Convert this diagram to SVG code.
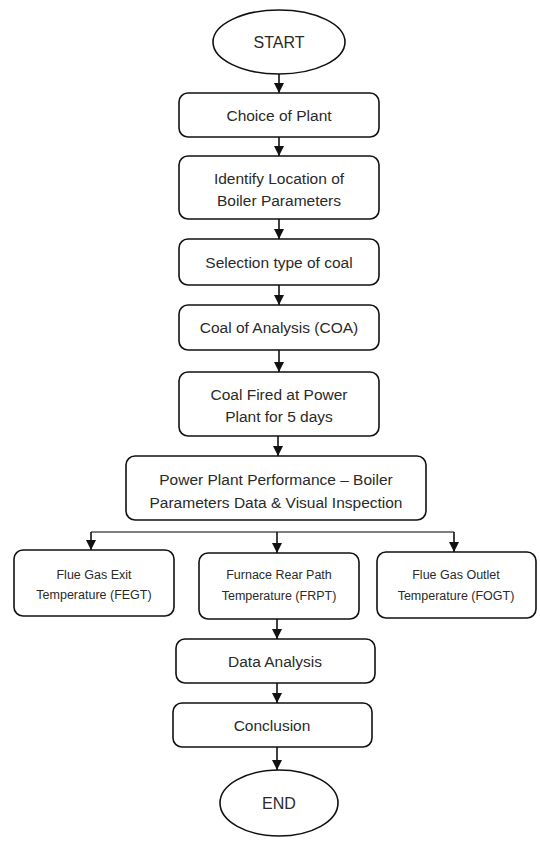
<svg xmlns="http://www.w3.org/2000/svg" width="540" height="841" viewBox="0 0 540 841">
<style>
.box{fill:#fff;stroke:#111;stroke-width:1.6}
.t{font-family:"Liberation Sans",Arial,sans-serif;font-size:15.5px;fill:#2a2a2a;text-anchor:middle}
.s{font-family:"Liberation Sans",Arial,sans-serif;font-size:12.5px;fill:#2a2a2a;text-anchor:middle}
.big{font-family:"Liberation Sans",Arial,sans-serif;font-size:16px;fill:#2a2a2a;text-anchor:middle}
.c{stroke:#111;stroke-width:1.6;fill:none;marker-end:url(#ah)}
</style>
<defs>
<marker id="ah" viewBox="0 0 10 10" refX="10" refY="5" markerWidth="10" markerHeight="10" markerUnits="userSpaceOnUse" orient="auto">
<path d="M0,0 L10,5 L0,10 Z" fill="#111"/>
</marker>
</defs>
<rect width="540" height="841" fill="#fff"/>
<g id="connectors">
<line class="c" x1="279" y1="74" x2="279" y2="93"/>
<line class="c" x1="279" y1="137" x2="279" y2="156"/>
<line class="c" x1="279" y1="219" x2="279" y2="239"/>
<line class="c" x1="279" y1="285" x2="279" y2="305"/>
<line class="c" x1="279" y1="350" x2="279" y2="372"/>
<line class="c" x1="278" y1="436" x2="278" y2="456"/>
<line x1="91" y1="532" x2="454" y2="532" stroke="#555" stroke-width="1.6"/>
<line class="c" x1="91" y1="532" x2="91" y2="550"/>
<line class="c" x1="277" y1="532" x2="277" y2="553"/>
<line class="c" x1="454" y1="532" x2="454" y2="552"/>
<line class="c" x1="277" y1="619" x2="277" y2="639"/>
<line class="c" x1="277" y1="683" x2="277" y2="703"/>
<line class="c" x1="277" y1="747" x2="277" y2="770"/>
</g>
<g id="start"><ellipse class="box" cx="279" cy="42" rx="66" ry="32"/><text class="big" x="279" y="48">START</text></g>
<g id="choice"><rect class="box" x="179" y="93" width="200" height="44" rx="9"/><text class="t" x="279" y="121">Choice of Plant</text></g>
<g id="identify"><rect class="box" x="179" y="156" width="200" height="63" rx="9"/><text class="t" x="279" y="184">Identify Location of</text><text class="t" x="279" y="206">Boiler Parameters</text></g>
<g id="selection"><rect class="box" x="179" y="239" width="200" height="46" rx="9"/><text class="t" x="279" y="268">Selection type of coal</text></g>
<g id="coa"><rect class="box" x="179" y="305" width="200" height="45" rx="9"/><text class="t" x="279" y="333">Coal of Analysis (COA)</text></g>
<g id="fired"><rect class="box" x="179" y="372" width="200" height="64" rx="9"/><text class="t" x="279" y="400">Coal Fired at Power</text><text class="t" x="279" y="422">Plant for 5 days</text></g>
<g id="performance"><rect class="box" x="126" y="456" width="300" height="64" rx="9"/><text class="t" x="276" y="485">Power Plant Performance – Boiler</text><text class="t" x="276" y="508">Parameters Data &amp; Visual Inspection</text></g>
<g id="fegt"><rect class="box" x="14" y="550" width="160" height="66" rx="9"/><text class="s" x="94" y="579">Flue Gas Exit</text><text class="s" x="94" y="599">Temperature (FEGT)</text></g>
<g id="frpt"><rect class="box" x="199" y="553" width="160" height="66" rx="9"/><text class="s" x="279" y="579">Furnace Rear Path</text><text class="s" x="279" y="600">Temperature (FRPT)</text></g>
<g id="fogt"><rect class="box" x="377" y="552" width="159" height="66" rx="9"/><text class="s" x="456" y="579">Flue Gas Outlet</text><text class="s" x="456" y="600">Temperature (FOGT)</text></g>
<g id="analysis"><rect class="box" x="176" y="639" width="199" height="44" rx="9"/><text class="t" x="275" y="667">Data Analysis</text></g>
<g id="conclusion"><rect class="box" x="173" y="703" width="199" height="44" rx="9"/><text class="t" x="272" y="731">Conclusion</text></g>
<g id="end"><ellipse class="box" cx="279" cy="803" rx="59" ry="33"/><text class="big" x="279" y="809">END</text></g>
</svg>
